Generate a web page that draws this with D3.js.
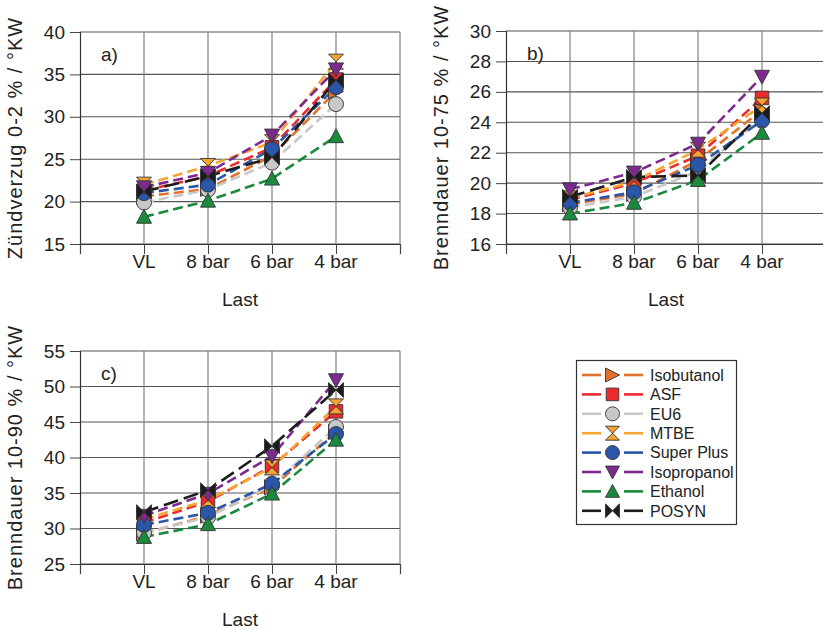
<!DOCTYPE html>
<html><head><meta charset="utf-8">
<script src="https://cdn.jsdelivr.net/npm/d3@7"></script>
<style>
html,body{margin:0;padding:0;background:#fff;}
svg{display:block;}
text{font-family:"Liberation Sans",Arial,Helvetica,sans-serif;fill:#222;}
</style></head>
<body>
<svg id="chart" width="823" height="629"></svg>
<script>
// ---- data ----
const categories = ["VL", "8 bar", "6 bar", "4 bar"];
const seriesNames = ["Isobutanol", "ASF", "EU6", "MTBE", "Super Plus", "Isopropanol", "Ethanol", "POSYN"];
const seriesColors = ["#e0702a", "#ec2a2e", "#c8c8c8", "#f6a532", "#2b55a9", "#7b2b8d", "#1b8a3d", "#1c1c1c"];
const seriesMarkers = ["triRight", "square", "circle", "hourglass", "circle", "triDown", "triUp", "bowtie"];

// a) Zündverzug 0-2 %
const zvIsobutanol = [20.6, 21.5, 25.4, 33.0];
const zvASF        = [21.3, 23.0, 26.4, 34.4];
const zvEU6        = [19.9, 21.4, 24.6, 31.5];
const zvMTBE       = [22.0, 24.2, 27.0, 36.5];
const zvSuperPlus  = [21.0, 22.0, 26.2, 33.5];
const zvIsopropanol= [21.7, 23.4, 27.8, 35.6];
const zvEthanol    = [18.2, 20.1, 22.7, 27.7];
const zvPOSYN      = [21.2, 23.0, 25.2, 34.3];

// b) Brenndauer 10-75 %
const bd75Isobutanol = [18.6, 19.3, 21.5, 24.8];
const bd75ASF        = [18.9, 20.0, 21.8, 25.6];
const bd75EU6        = [18.4, 19.1, 20.8, 24.3];
const bd75MTBE       = [19.0, 20.1, 22.2, 25.1];
const bd75SuperPlus  = [18.7, 19.4, 21.2, 24.1];
const bd75Isopropanol= [19.6, 20.7, 22.6, 27.0];
const bd75Ethanol    = [18.0, 18.7, 20.2, 23.3];
const bd75POSYN      = [19.1, 20.4, 20.5, 24.6];

// c) Brenndauer 10-90 %
const bd90Isobutanol = [29.3, 31.8, 35.8, 43.6];
const bd90ASF        = [30.8, 33.8, 38.8, 46.5];
const bd90EU6        = [29.4, 31.6, 36.1, 44.3];
const bd90MTBE       = [31.3, 34.0, 38.6, 47.2];
const bd90SuperPlus  = [30.5, 32.2, 36.3, 43.3];
const bd90Isopropanol= [31.8, 34.9, 40.2, 50.9];
const bd90Ethanol    = [28.8, 30.6, 34.9, 42.5];
const bd90POSYN      = [32.3, 35.4, 41.6, 49.5];

const ticksA = [15, 20, 25, 30, 35, 40];
const ticksB = [16, 18, 20, 22, 24, 26, 28, 30];
const ticksC = [25, 30, 35, 40, 45, 50, 55];

const panels = [
  {label: "a)", title: "Zündverzug 0-2 % / °KW", ticks: ticksA,
   data: [zvIsobutanol, zvASF, zvEU6, zvMTBE, zvSuperPlus, zvIsopropanol, zvEthanol, zvPOSYN],
   x0: 80, x1: 400, y0: 32, y1: 244},
  {label: "b)", title: "Brenndauer 10-75 % / °KW", ticks: ticksB,
   data: [bd75Isobutanol, bd75ASF, bd75EU6, bd75MTBE, bd75SuperPlus, bd75Isopropanol, bd75Ethanol, bd75POSYN],
   x0: 506, x1: 826, y0: 31, y1: 244},
  {label: "c)", title: "Brenndauer 10-90 % / °KW", ticks: ticksC,
   data: [bd90Isobutanol, bd90ASF, bd90EU6, bd90MTBE, bd90SuperPlus, bd90Isopropanol, bd90Ethanol, bd90POSYN],
   x0: 80, x1: 400, y0: 351, y1: 564}
];

const svg = d3.select("#chart");
const FONT = 19;

function markerPath(type, s) {
  const h = s / 2;
  switch (type) {
    case "triRight": return `M${-h},${-h}L${h},0L${-h},${h}Z`;
    case "triDown": return `M${-h},${-h*0.85}L${h},${-h*0.85}L0,${h}Z`;
    case "triUp": return `M${-h},${h*0.85}L${h},${h*0.85}L0,${-h}Z`;
    case "square": return `M${-h*0.9},${-h*0.9}H${h*0.9}V${h*0.9}H${-h*0.9}Z`;
    case "hourglass": return `M${-h},${-h}H${h}L${-h},${h}H${h}Z`;
    case "bowtie": return `M${-h},${-h}V${h}L${h},${-h}V${h}Z`;
    case "circle": {
      const r = h;
      return `M${r},0A${r},${r} 0 1,1 ${-r},0A${r},${r} 0 1,1 ${r},0Z`;
    }
  }
}

panels.forEach(p => {
  const g = svg.append("g");
  const x = d3.scaleLinear().domain([0, 5]).range([p.x0, p.x1]);
  const y = d3.scaleLinear().domain([p.ticks[0], p.ticks[p.ticks.length - 1]]).range([p.y1, p.y0]);

  // grid
  g.append("g").selectAll("line").data(p.ticks).join("line")
    .attr("x1", p.x0).attr("x2", p.x1)
    .attr("y1", d => y(d)).attr("y2", d => y(d))
    .attr("stroke", "#555").attr("stroke-width", 1.1);
  g.append("g").selectAll("line").data(d3.range(1, 6)).join("line")
    .attr("x1", d => x(d)).attr("x2", d => x(d))
    .attr("y1", p.y0).attr("y2", p.y1)
    .attr("stroke", "#777").attr("stroke-width", 1.1);

  // axes
  const yAxis = d3.axisLeft(y).tickValues(p.ticks).tickSize(10).tickPadding(5).tickFormat(d3.format("d"));
  const ya = g.append("g").attr("transform", `translate(${p.x0},0)`).call(yAxis);
  ya.select(".domain").attr("stroke", "#333").attr("stroke-width", 1.2);
  ya.selectAll(".tick line").attr("stroke", "#444");
  ya.selectAll(".tick text").style("font-size", FONT + "px").attr("fill", "#222")
    .style("font-family", '"Liberation Sans",Arial,sans-serif');

  const xAxis = d3.axisBottom(x).tickValues(d3.range(0, 6)).tickSize(10).tickFormat("");
  const xa = g.append("g").attr("transform", `translate(0,${p.y1})`).call(xAxis);
  xa.select(".domain").attr("stroke", "#333").attr("stroke-width", 1.2);
  xa.selectAll(".tick line").attr("stroke", "#444");

  const xc = d3.scalePoint().domain(categories).range([x(1), x(4)]);
  g.append("g").selectAll("text").data(categories).join("text")
    .attr("x", d => xc(d)).attr("y", p.y1 + 24)
    .attr("text-anchor", "middle").style("font-size", FONT + "px").text(d => d);

  g.append("text").attr("x", (p.x0 + p.x1) / 2).attr("y", p.y1 + 62)
    .attr("text-anchor", "middle").style("font-size", FONT + "px").text("Last");

  g.append("text")
    .attr("transform", `translate(${p.x0 - 58},${(p.y0 + p.y1) / 2}) rotate(-90)`)
    .attr("text-anchor", "middle").style("font-size", "20px").style("letter-spacing", "1px")
    .text(p.title);

  g.append("text").attr("x", p.x0 + 21).attr("y", p.y0 + 29)
    .style("font-size", FONT + "px").text(p.label);

  // lines
  const line = d3.line().x((d, i) => xc(categories[i])).y(d => y(d));
  p.data.forEach((vals, si) => {
    g.append("path").datum(vals).attr("d", line)
      .attr("fill", "none").attr("stroke", seriesColors[si]).attr("stroke-width", 2.6)
      .attr("stroke-dasharray", si === 7 ? "15,6" : "10,5");
  });
  // markers
  p.data.forEach((vals, si) => {
    g.append("g").selectAll("path").data(vals).join("path")
      .attr("transform", (d, i) => `translate(${xc(categories[i])},${y(d)})`)
      .attr("d", markerPath(seriesMarkers[si], 15))
      .attr("fill", seriesColors[si]).attr("stroke", "#333").attr("stroke-width", 0.9);
  });
});

// legend
const lg = svg.append("g");
lg.append("rect").attr("x", 576.5).attr("y", 360.5).attr("width", 160).attr("height", 164)
  .attr("fill", "#fff").attr("stroke", "#333").attr("stroke-width", 1.2);
seriesNames.forEach((name, i) => {
  const cy = 375 + i * 19.4;
  lg.append("line").attr("x1", 582).attr("x2", 601).attr("y1", cy).attr("y2", cy)
    .attr("stroke", seriesColors[i]).attr("stroke-width", 2.6);
  lg.append("line").attr("x1", 624).attr("x2", 643).attr("y1", cy).attr("y2", cy)
    .attr("stroke", seriesColors[i]).attr("stroke-width", 2.6);
  lg.append("path").attr("transform", `translate(612.5,${cy})`)
    .attr("d", markerPath(seriesMarkers[i], 14))
    .attr("fill", seriesColors[i]).attr("stroke", "#333").attr("stroke-width", 0.9);
  lg.append("text").attr("x", 650).attr("y", cy).attr("dy", "0.36em")
    .style("font-size", "16px").text(name);
});
</script>
</body></html>
